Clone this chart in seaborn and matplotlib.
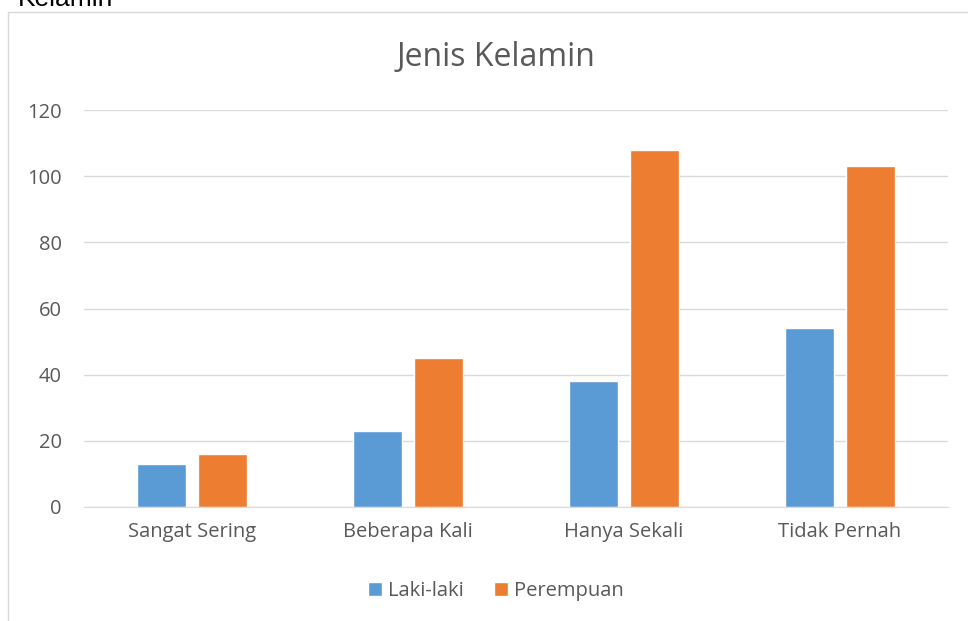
import matplotlib
matplotlib.use('Agg')
import matplotlib.pyplot as plt
from matplotlib.patches import Rectangle, Patch
import seaborn as sns
import pandas as pd

categories = ['Sangat Sering', 'Beberapa Kali', 'Hanya Sekali', 'Tidak Pernah']
laki_laki = [13, 23, 38, 54]
perempuan = [16, 45, 108, 103]
series_names = ['Laki-laki', 'Perempuan']
y_ticks = [0, 20, 40, 60, 80, 100, 120]

colors = ['#5B9BD5', '#ED7D31']
text_color = '#595959'

df = pd.DataFrame({
    'Kategori': categories * 2,
    'Jumlah': laki_laki + perempuan,
    'Jenis': [series_names[0]] * 4 + [series_names[1]] * 4,
})

sns.set_style('white')
plt.rcParams['font.family'] = ['Open Sans', 'DejaVu Sans']

fig = plt.figure(figsize=(9.68, 6.21), dpi=100)
ax = fig.add_axes([84 / 968, 114 / 621, 864 / 968, 397 / 621])

sns.barplot(data=df, x='Kategori', y='Jumlah', hue='Jenis', order=categories,
            hue_order=series_names, palette=colors, width=0.565, gap=0.21,
            saturation=1, legend=False, ax=ax)

ax.set_ylim(0, 120)
ax.set_yticks(y_ticks)
ax.set_xlim(-0.5, 3.5)
ax.yaxis.grid(True, color='#D9D9D9', linewidth=1)
ax.set_axisbelow(True)
for s in ['top', 'right', 'left']:
    ax.spines[s].set_visible(False)
ax.spines['bottom'].set_color('#D9D9D9')
ax.tick_params(axis='both', length=0, labelsize=14.5, colors=text_color)
ax.tick_params(axis='y', pad=16)
ax.tick_params(axis='x', pad=11)
ax.set_xlabel('')
ax.set_ylabel('')

fig.text(0.512, 1 - 57 / 621, 'Jenis Kelamin', ha='center', va='center',
         fontsize=23, color=text_color)

# chart frame
fig.patches.append(Rectangle((8 / 968, -0.01), 1.0, 1 - 12 / 621 + 0.01,
                             transform=fig.transFigure, fill=False,
                             edgecolor='#D9D9D9', linewidth=1))

# caption text above the chart, partly cut off at the top edge
fig.text(18 / 968, 1 - 6 / 621, 'Kelamin', ha='left', va='baseline',
         fontsize=19, color='black', family=['Liberation Sans'])

handles = [Patch(facecolor=c, label=n) for c, n in zip(colors, series_names)]
leg = fig.legend(handles=handles, loc='center', bbox_to_anchor=(0.512, 1 - 591 / 621),
                 ncol=2, frameon=False, fontsize=14.5, handlelength=0.7,
                 handleheight=0.7, handletextpad=0.3, columnspacing=1.5)
for t in leg.get_texts():
    t.set_color(text_color)

fig.savefig('out.png', dpi=100)
